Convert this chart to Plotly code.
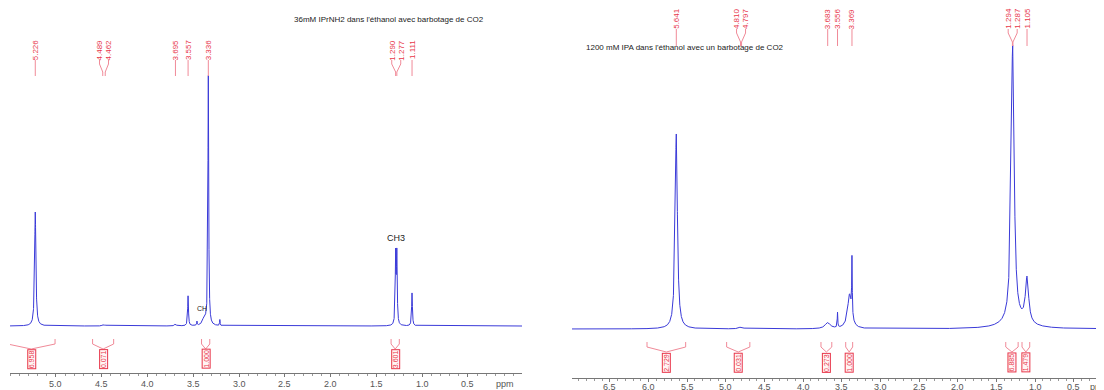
import numpy as np
import plotly.graph_objects as go

W, H = 1104, 390

# ---------------- data ----------------
left_title = "36mM IPrNH2 dans l'éthanol avec barbotage de CO2"
right_title = "1200 mM IPA dans l'éthanol avec un barbotage de CO2"

# left spectrum peaks (ppm, intensity, half width in ppm)
left_peak_ppm = [5.226, 4.489, 4.462, 3.695, 3.557, 3.46, 3.38, 3.336, 3.21, 1.290, 1.277, 1.111]
left_peak_int = [114, 1, 1, 2, 30, 4, 8, 249, 6, 69, 69, 33]
left_peak_hw = [0.008, 0.01, 0.01, 0.01, 0.005, 0.003, 0.02, 0.005, 0.003, 0.005, 0.005, 0.005]

left_labels = [5.226, 4.489, 4.462, 3.695, 3.557, 3.336, 1.290, 1.277, 1.111]
left_int_from = [5.53, 4.60, 3.41, 1.34]
left_int_to = [5.01, 4.37, 3.32, 1.25]
left_int_val = ["6.958", "0.071", "1.000", "3.601"]
left_ticks = [5.0, 4.5, 4.0, 3.5, 3.0, 2.5, 2.0, 1.5, 1.0, 0.5]

# right spectrum peaks
right_peak_ppm = [5.641, 4.810, 4.797, 3.683, 3.556, 3.40, 3.369, 1.294, 1.287, 1.25, 1.105]
right_peak_int = [195, 1, 1, 6, 15, 34, 57, 142, 142, 6, 45]
right_peak_hw = [0.017, 0.03, 0.03, 0.04, 0.004, 0.03, 0.004, 0.022, 0.022, 0.2, 0.025]

right_labels = [5.641, 4.810, 4.797, 3.683, 3.556, 3.369, 1.294, 1.287, 1.105]
right_int_from = [6.02, 4.99, 3.77, 3.45, 1.38, 1.17]
right_int_to = [5.52, 4.69, 3.63, 3.36, 1.22, 1.07]
right_int_val = ["2.729", "0.031", "0.273", "1.000", "6.885", "1.479"]
right_ticks = [6.5, 6.0, 5.5, 5.0, 4.5, 4.0, 3.5, 3.0, 2.5, 2.0, 1.5, 1.0, 0.5]

# ---------------- layout geometry ----------------
L_px = (2, 514)
L_rng = (5.502, -0.090)
R_px = (564, 1104)
R_rng = (6.99, 0.006)
L_base, R_base = 318, 321          # pixel row of spectrum baselines
L_axis, R_axis = 365, 370          # pixel row of axis lines

def ppm_to_px(p, pxr, rng):
    return pxr[0] + (rng[0] - p) / (rng[0] - rng[1]) * (pxr[1] - pxr[0])

def px_to_ppm(x, pxr, rng):
    return rng[0] - (x - pxr[0]) / (pxr[1] - pxr[0]) * (rng[0] - rng[1])

def py(y):
    return 1 - y / H

def spectrum(ppm, pos, inten, hw):
    y = np.zeros_like(ppm)
    for p, h, w in zip(pos, inten, hw):
        y += h * w * w / (w * w + (ppm - p) ** 2)
    return y

BLUE = "#3a3ad8"
RED = "#e8364a"
PINK = "#f08a98"
FONT = "Liberation Sans, Arial, sans-serif"

fig = go.Figure()

xl = np.arange(L_rng[1], L_rng[0], 0.0004)
fig.add_trace(go.Scatter(x=xl, y=spectrum(xl, left_peak_ppm, left_peak_int, left_peak_hw),
                         mode="lines", line=dict(color=BLUE, width=1), xaxis="x", yaxis="y",
                         hoverinfo="skip", showlegend=False))
xr = np.arange(R_rng[1], R_rng[0], 0.0004)
fig.add_trace(go.Scatter(x=xr, y=spectrum(xr, right_peak_ppm, right_peak_int, right_peak_hw),
                         mode="lines", line=dict(color=BLUE, width=1), xaxis="x2", yaxis="y2",
                         hoverinfo="skip", showlegend=False))

shapes = []
annotations = []

def spread(px_list, sep=9.0):
    pos = list(px_list)
    for _ in range(200):
        moved = False
        for i in range(len(pos) - 1):
            gap = pos[i + 1] - pos[i]
            if gap < sep - 1e-6:
                d = (sep - gap) / 2
                pos[i] -= d
                pos[i + 1] += d
                moved = True
        if not moved:
            break
    return pos

def add_labels(labels, pxr, rng, xref, text_c, text_bot, line_bot):
    raw = [ppm_to_px(v, pxr, rng) for v in labels]
    order = np.argsort(raw)
    sp_sorted = spread([raw[i] for i in order])
    disp = [0] * len(raw)
    for k, i in enumerate(order):
        disp[i] = sp_sorted[k]
    for v, dx in zip(labels, disp):
        lx = px_to_ppm(dx, pxr, rng)
        annotations.append(dict(x=lx, y=py(text_c), xref=xref, yref="paper",
                                text=f"{v:.3f}", textangle=-90, showarrow=False,
                                font=dict(size=8, color=RED, family=FONT),
                                xanchor="center", yanchor="middle"))
        path = (f"M {lx},{py(text_bot)} L {lx},{py(text_bot + 4)} "
                f"L {v},{py(line_bot - 4)} L {v},{py(line_bot)}")
        shapes.append(dict(type="path", path=path, xref=xref, yref="paper",
                           line=dict(color=PINK, width=1)))

def add_integrals(f_list, t_list, vals, xref, tick_top, tick_bot, box_top, box_c):
    for a, b, v in zip(f_list, t_list, vals):
        c = (a + b) / 2
        path = (f"M {a},{py(tick_top)} L {a},{py(tick_bot)} L {c},{py(box_top)} "
                f"L {b},{py(tick_bot)} L {b},{py(tick_top)}")
        shapes.append(dict(type="path", path=path, xref=xref, yref="paper",
                           line=dict(color=PINK, width=1)))
        annotations.append(dict(x=c, y=py(box_c), xref=xref, yref="paper", text=v,
                                textangle=-90, showarrow=False,
                                font=dict(size=7, color=RED, family=FONT),
                                bordercolor=RED, borderwidth=1, borderpad=0,
                                bgcolor="#fff4f4", xanchor="center", yanchor="middle"))

def add_tick_labels(ticks, xref, ypix):
    for t in ticks:
        annotations.append(dict(x=t, y=py(ypix), xref=xref, yref="paper", text=f"{t:.1f}",
                                showarrow=False, xanchor="center", yanchor="middle",
                                font=dict(size=9, color="#555", family=FONT)))

add_labels(left_labels, L_px, L_rng, "x", 42, 52, 68)
add_labels(right_labels, R_px, R_rng, "x2", 10.5, 21, 38)
add_integrals(left_int_from, left_int_to, left_int_val, "x", 331, 336, 341, 351)
add_integrals(right_int_from, right_int_to, right_int_val, "x2", 334, 339, 344, 354.5)
add_tick_labels(left_ticks, "x", 376)
add_tick_labels(right_ticks, "x2", 379)

# titles and peak assignments
annotations.append(dict(x=284 / W, y=py(11), xref="paper", yref="paper", text=left_title,
                        showarrow=False, xanchor="left", yanchor="middle",
                        font=dict(size=8, color="#222", family=FONT)))
annotations.append(dict(x=576 / W, y=py(40), xref="paper", yref="paper", text=right_title,
                        showarrow=False, xanchor="left", yanchor="middle",
                        font=dict(size=8, color="#222", family=FONT)))
annotations.append(dict(x=1.284, y=py(230), xref="x", yref="paper", text="CH3",
                        showarrow=False, xanchor="center", yanchor="middle",
                        font=dict(size=9, color="#222", family=FONT)))
annotations.append(dict(x=3.40, y=py(300), xref="x", yref="paper", text="CH",
                        showarrow=False, xanchor="center", yanchor="middle",
                        font=dict(size=7, color="#222", family=FONT)))
annotations.append(dict(x=px_to_ppm(497, L_px, L_rng), y=py(376), xref="x", yref="paper",
                        text="ppm", showarrow=False, xanchor="center", yanchor="middle",
                        font=dict(size=9, color="#555", family=FONT)))
annotations.append(dict(x=px_to_ppm(1091, R_px, R_rng), y=py(379), xref="x2", yref="paper",
                        text="ppm", showarrow=False, xanchor="center", yanchor="middle",
                        font=dict(size=9, color="#555", family=FONT)))

axis_common = dict(showgrid=False, zeroline=False, showline=True, linecolor="#777",
                   linewidth=1, ticks="outside", ticklen=3, tickcolor="#777",
                   showticklabels=False, fixedrange=True,
                   minor=dict(tick0=0, dtick=0.1, ticks="outside", ticklen=2, tickcolor="#999"))

fig.update_layout(
    width=W, height=H, margin=dict(l=0, r=0, t=0, b=0),
    paper_bgcolor="white", plot_bgcolor="white",
    xaxis=dict(domain=[L_px[0] / W, L_px[1] / W], range=list(L_rng), anchor="free",
               position=(H - L_axis) / H, tickvals=left_ticks, **axis_common),
    yaxis=dict(domain=[0, 1], range=[-(H - L_base), L_base], visible=False, fixedrange=True),
    xaxis2=dict(domain=[R_px[0] / W, 1], range=list(R_rng), anchor="free",
                position=(H - R_axis) / H, tickvals=right_ticks, **axis_common),
    yaxis2=dict(domain=[0, 1], range=[-(H - R_base), R_base], visible=False, fixedrange=True,
                anchor="x2"),
    shapes=shapes, annotations=annotations, showlegend=False,
)

fig.write_html("out.html")
